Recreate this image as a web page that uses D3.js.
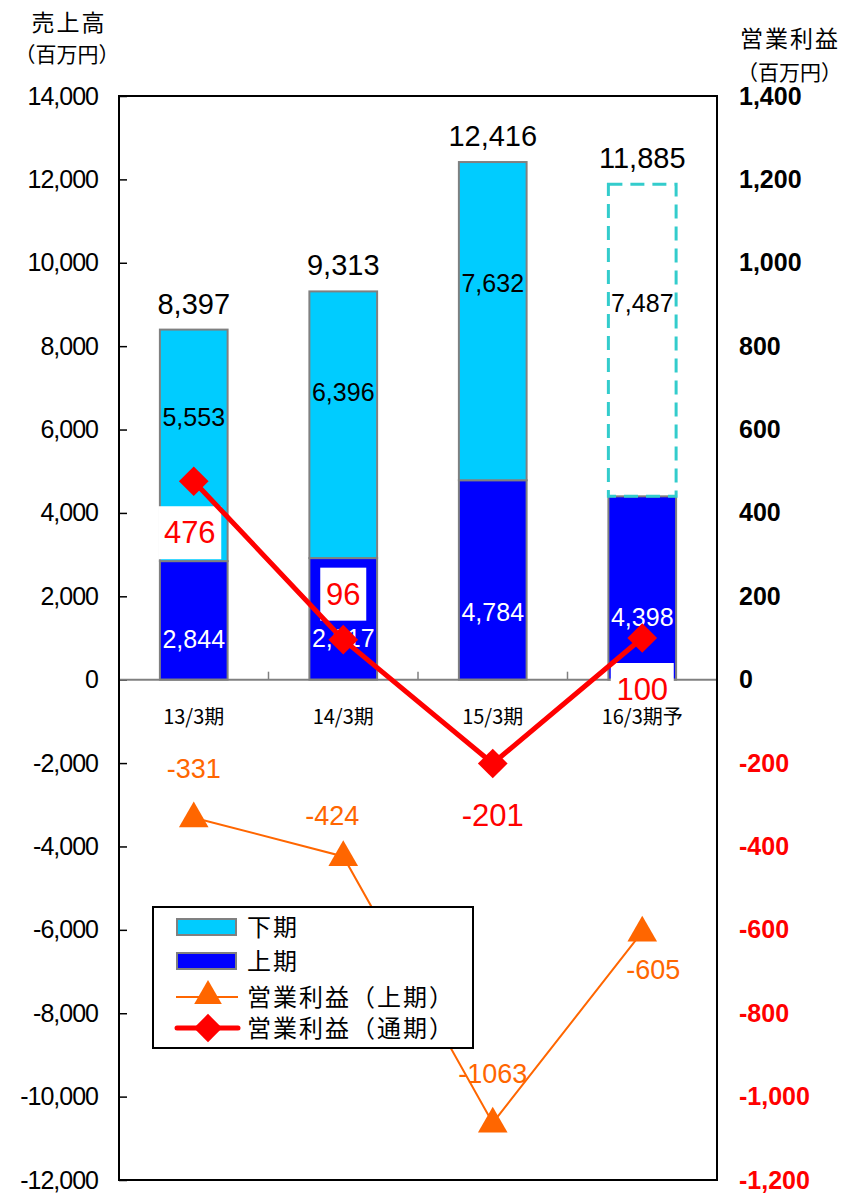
<!DOCTYPE html>
<html>
<head>
<meta charset="utf-8">
<script src="https://cdn.jsdelivr.net/npm/d3@7"></script>
<style>
	body { margin: 0; background: #fff; }
	svg { display: block; }
</style>
</head>
<body>
<svg></svg>
<script>
'use strict'

// 売上高 (百万円)
const categories = ['13/3期', '14/3期', '15/3期', '16/3期予']
const firstHalf = [2844, 2917, 4784, 4398]     // 上期
const secondHalf = [5553, 6396, 7632, 7487]    // 下期
// 営業利益 (百万円)
const profitFull = [476, 96, -201, 100]        // 通期
const profitFirst = [-331, -424, -1063, -605]  // 上期
const salesTicks = [14000, 12000, 10000, 8000, 6000, 4000, 2000, 0, -2000, -4000, -6000, -8000, -10000, -12000]
const profitTicks = [1400, 1200, 1000, 800, 600, 400, 200, 0, -200, -400, -600, -800, -1000, -1200]
const legendLabels = ['下期', '上期', '営業利益（上期）', '営業利益（通期）']

const width = 843,
	height = 1194

const NUM = '"Liberation Sans", Arial, sans-serif'
const JP = '"Noto Sans CJK JP", sans-serif'
const LIGHT = '#00ccff',
	BLUE = '#0000ff',
	ORANGE = '#ff6600',
	RED = '#ff0000'

// plain hyphen for negatives, like the original
let fmt = d3.formatLocale({ decimal: '.', thousands: ',', grouping: [3], currency: ['', ''], minus: '-' }).format(',')

let svg = d3.select('svg')
	.attr('width', width)
	.attr('height', height)

let plot = { left: 119, right: 717, top: 96, bottom: 1180 }

let x = d3.scaleBand()
	.domain(categories)
	.range([plot.left, plot.right])
	.paddingInner(0.547)
	.paddingOuter(0.2735)

let y = d3.scaleLinear()
	.domain([-12000, 14000])
	.range([plot.bottom, plot.top])

let y2 = d3.scaleLinear()
	.domain([-1200, 1400])
	.range([plot.bottom, plot.top])

let rows = categories.map(function(c, i) {
	return { cat: c, first: firstHalf[i], second: secondHalf[i], total: firstHalf[i] + secondHalf[i], i: i }
})

function cx(d) {
	return x(d.cat) + x.bandwidth() / 2
}

// titles
svg.append('text').attr('x', 69).attr('y', 31).attr('text-anchor', 'middle')
	.style('font', '23px ' + JP).style('letter-spacing', '2px').text('売上高')
svg.append('text').attr('x', 67).attr('y', 62).attr('text-anchor', 'middle')
	.style('font', '21px ' + JP).text('（百万円）')
svg.append('text').attr('x', 840).attr('y', 47).attr('text-anchor', 'end')
	.style('font', '23px ' + JP).style('letter-spacing', '2px').text('営業利益')
svg.append('text').attr('x', 842).attr('y', 80).attr('text-anchor', 'end')
	.style('font', '21px ' + JP).text('（百万円）')

// left axis
let leftAxis = svg.append('g')
	.attr('transform', 'translate(' + plot.left + ',0)')
	.call(d3.axisLeft(y).tickValues(salesTicks).tickSize(-8).tickPadding(21).tickFormat(fmt))
leftAxis.select('.domain').remove()
leftAxis.selectAll('line').attr('stroke', '#000').attr('stroke-width', 1.5)
leftAxis.selectAll('text')
	.style('font', '25px ' + NUM)
	.style('letter-spacing', '-1px')
	.attr('fill', '#000')

// right axis
let rightAxis = svg.append('g')
	.attr('transform', 'translate(' + plot.right + ',0)')
	.call(d3.axisRight(y2).tickValues(profitTicks).tickSize(0).tickPadding(22).tickFormat(fmt))
rightAxis.select('.domain').remove()
rightAxis.selectAll('text')
	.style('font', 'bold 25px ' + NUM)
	.attr('fill', function(d) { return d < 0 ? RED : '#000' })

// bars
let bars = svg.append('g')

bars.selectAll('.first')
	.data(rows)
	.enter().append('rect')
	.attr('x', function(d) { return x(d.cat) })
	.attr('width', x.bandwidth())
	.attr('y', function(d) { return y(d.first) })
	.attr('height', function(d) { return y(0) - y(d.first) })
	.attr('fill', BLUE)
	.attr('stroke', '#808080')
	.attr('stroke-width', 2)

bars.selectAll('.second')
	.data(rows)
	.enter().append('rect')
	.attr('x', function(d) { return x(d.cat) })
	.attr('width', x.bandwidth())
	.attr('y', function(d) { return y(d.total) })
	.attr('height', function(d) { return y(d.first) - y(d.total) })
	.attr('fill', function(d) { return d.i === 3 ? 'none' : LIGHT })
	.attr('stroke', function(d) { return d.i === 3 ? '#33cccc' : '#808080' })
	.attr('stroke-width', function(d) { return d.i === 3 ? 3 : 2 })
	.attr('stroke-dasharray', function(d) { return d.i === 3 ? '14,8' : null })

// bar labels
bars.selectAll('.totalLabel')
	.data(rows)
	.enter().append('text')
	.attr('x', cx)
	.attr('y', function(d) { return y(d.total) - 16 })
	.attr('text-anchor', 'middle')
	.style('font', '29px ' + NUM)
	.text(function(d) { return fmt(d.total) })

bars.selectAll('.secondLabel')
	.data(rows)
	.enter().append('text')
	.attr('x', cx)
	.attr('y', function(d) { return y(d.total) + (y(d.first) - y(d.total)) * 0.38 })
	.attr('dy', '0.35em')
	.attr('text-anchor', 'middle')
	.style('font', '25px ' + NUM)
	.text(function(d) { return fmt(d.second) })

bars.selectAll('.firstLabel')
	.data(rows)
	.enter().append('text')
	.attr('x', cx)
	.attr('y', function(d) { return y(d.first) + (y(0) - y(d.first)) * 0.66 })
	.attr('dy', '0.35em')
	.attr('text-anchor', 'middle')
	.attr('fill', '#fff')
	.style('font', '25px ' + NUM)
	.text(function(d) { return fmt(d.first) })

// zero line with category ticks
svg.append('line')
	.attr('x1', plot.left).attr('x2', plot.right)
	.attr('y1', y(0)).attr('y2', y(0))
	.attr('stroke', '#808080').attr('stroke-width', 2)

svg.selectAll('.catTick')
	.data(categories.slice(1))
	.enter().append('line')
	.attr('x1', function(d) { return x(d) - x.step() * x.paddingInner() / 2 })
	.attr('x2', function(d) { return x(d) - x.step() * x.paddingInner() / 2 })
	.attr('y1', y(0)).attr('y2', y(0) - 8)
	.attr('stroke', '#808080').attr('stroke-width', 1.5)

// frame
svg.append('rect')
	.attr('x', plot.left).attr('y', plot.top)
	.attr('width', plot.right - plot.left).attr('height', plot.bottom - plot.top)
	.attr('fill', 'none').attr('stroke', '#000').attr('stroke-width', 2)

// 通期 labels in white boxes
let fullLabels = svg.append('g')
	.selectAll('g')
	.data(profitFull)
	.enter().append('g')
	.attr('transform', function(d, i) {
		let dy = i === 1 ? -46 : 51
		return 'translate(' + (x(categories[i]) + x.bandwidth() / 2 - (i === 0 ? 4 : 0)) + ',' + (y2(d) + dy) + ')'
	})

fullLabels.append('rect')
	.attr('x', function(d) { return -(String(d).length * 17 + 12) / 2 })
	.attr('width', function(d) { return String(d).length * 17 + 12 })
	.attr('y', -26).attr('height', function(d, i) { return i === 3 ? 44 : 53 })
	.attr('fill', '#fff')

fullLabels.append('text')
	.attr('text-anchor', 'middle')
	.attr('dy', '0.36em')
	.attr('fill', RED)
	.style('font', '31px ' + NUM)
	.text(function(d) { return fmt(d) })

svg.selectAll('.catLabel')
	.data(categories)
	.enter().append('text')
	.attr('x', function(d) { return x(d) + x.bandwidth() / 2 })
	.attr('y', y(0) + 44)
	.attr('text-anchor', 'middle')
	.style('font', '20px ' + JP)
	.text(function(d) { return d })

// 営業利益（上期） line
let lineOf = d3.line()
	.x(function(d, i) { return x(categories[i]) + x.bandwidth() / 2 })
	.y(function(d) { return y2(d) })

svg.append('path')
	.datum(profitFirst)
	.attr('d', lineOf)
	.attr('fill', 'none')
	.attr('stroke', ORANGE)
	.attr('stroke-width', 2)

let tri = d3.symbol().type(d3.symbolTriangle).size(380)

svg.selectAll('.tri')
	.data(profitFirst)
	.enter().append('path')
	.attr('d', tri)
	.attr('transform', function(d, i) {
		return 'translate(' + (x(categories[i]) + x.bandwidth() / 2) + ',' + (y2(d) + 1) + ')'
	})
	.attr('fill', ORANGE)

svg.selectAll('.firstProfitLabel')
	.data(profitFirst)
	.enter().append('text')
	.attr('x', function(d, i) { return x(categories[i]) + x.bandwidth() / 2 + (i === 1 ? -11 : i === 3 ? 11 : 0) })
	.attr('y', function(d, i) { return y2(d) + (i === 3 ? 38 : i === 1 ? -41 : -49) })
	.attr('dy', '0.35em')
	.attr('text-anchor', 'middle')
	.attr('fill', ORANGE)
	.style('font', '27px ' + NUM)
	.text(function(d) { return fmt(d).replace(',', '') })

// 営業利益（通期） line
svg.append('path')
	.datum(profitFull)
	.attr('d', lineOf)
	.attr('fill', 'none')
	.attr('stroke', RED)
	.attr('stroke-width', 5)
	.attr('stroke-linejoin', 'round')

svg.selectAll('.dia')
	.data(profitFull)
	.enter().append('rect')
	.attr('x', -10.5).attr('y', -10.5)
	.attr('width', 21).attr('height', 21)
	.attr('transform', function(d, i) {
		return 'translate(' + (x(categories[i]) + x.bandwidth() / 2) + ',' + y2(d) + ') rotate(45)'
	})
	.attr('fill', RED)

// legend
let legend = svg.append('g').attr('transform', 'translate(153,907)')

legend.append('rect')
	.attr('width', 320).attr('height', 141)
	.attr('fill', '#fff').attr('stroke', '#000').attr('stroke-width', 2)

let rowY = [20, 54, 90, 121]

legend.append('rect').attr('x', 24).attr('y', rowY[0] - 8).attr('width', 59).attr('height', 16)
	.attr('fill', LIGHT).attr('stroke', '#808080').attr('stroke-width', 2)
legend.append('rect').attr('x', 24).attr('y', rowY[1] - 8).attr('width', 59).attr('height', 16)
	.attr('fill', BLUE).attr('stroke', '#808080').attr('stroke-width', 2)

legend.append('line').attr('x1', 23).attr('x2', 85).attr('y1', rowY[2]).attr('y2', rowY[2])
	.attr('stroke', ORANGE).attr('stroke-width', 2)
legend.append('path').attr('d', d3.symbol().type(d3.symbolTriangle).size(330))
	.attr('transform', 'translate(55,' + (rowY[2] - 1) + ')').attr('fill', ORANGE)

legend.append('line').attr('x1', 24).attr('x2', 85).attr('y1', rowY[3]).attr('y2', rowY[3])
	.attr('stroke', RED).attr('stroke-width', 5).attr('stroke-linecap', 'round')
legend.append('rect').attr('x', -10).attr('y', -10).attr('width', 20).attr('height', 20)
	.attr('transform', 'translate(55,' + rowY[3] + ') rotate(45)').attr('fill', RED)

legend.selectAll('.legendText')
	.data(legendLabels)
	.enter().append('text')
	.attr('x', 94)
	.attr('y', function(d, i) { return rowY[i] })
	.attr('dy', '0.36em')
	.style('font', '24px ' + JP)
	.style('letter-spacing', '2px')
	.text(function(d) { return d })
</script>
</body>
</html>
